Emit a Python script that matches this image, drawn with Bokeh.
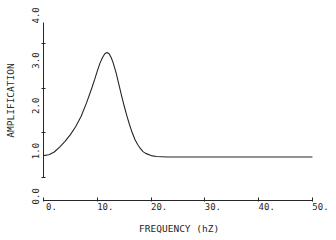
import math
from bokeh.plotting import figure
from bokeh.models import Range1d, LinearAxis, FixedTicker, PrintfTickFormatter
from bokeh.embed import file_html
from bokeh.resources import INLINE

# ---- data ----
freq = [0, 1, 2, 3, 4, 5, 6, 7, 8, 9, 9.5, 10, 10.5, 11, 11.4, 11.8, 12.2, 12.6,
        13, 13.5, 14, 14.5, 15, 15.5, 16, 16.5, 17, 17.5, 18, 18.5, 19, 20, 21,
        23, 25, 30, 35, 40, 45, 50]
amplification = [0.49, 0.51, 0.57, 0.68, 0.81, 0.96, 1.14, 1.37, 1.67, 2.01, 2.19,
                 2.38, 2.56, 2.69, 2.77, 2.80, 2.77, 2.68, 2.55, 2.34, 2.09, 1.84,
                 1.60, 1.38, 1.18, 1.00, 0.85, 0.74, 0.65, 0.58, 0.54, 0.49, 0.47,
                 0.46, 0.46, 0.46, 0.46, 0.46, 0.46, 0.46]
x_ticks = [0, 10, 20, 30, 40, 50]
y_ticks = [0, 1, 2, 3]
y_tick_labels = [0, 1, 2, 3, 4]

FONT = "DejaVu Sans Mono"
INK = "#262626"

p = figure(width=336, height=240, output_backend="svg", toolbar_location=None,
           x_range=Range1d(0, 51.5), y_range=Range1d(-0.515, 3.962),
           min_border_left=43, min_border_right=16, min_border_top=0,
           min_border_bottom=40, outline_line_color=None)
p.grid.visible = False
p.background_fill_color = "white"
p.border_fill_color = "white"

# label-carrying ranges (labels sit offset from the tick marks as in the original)
p.extra_x_ranges = {"xl": Range1d(-1.49, 50.0)}
p.extra_y_ranges = {"yl": Range1d(-0.272, 4.148)}

# primary axes: line and ticks only (labels not drawn)
xa = p.xaxis[0]
xa.ticker = FixedTicker(ticks=x_ticks)
xa.bounds = (0, 50)
xa.major_label_text_color = None
xa.major_label_text_font_size = "1px"
xa.major_label_standoff = 0
xa.major_tick_in = 3
xa.major_tick_out = 1
xa.minor_tick_line_color = None
xa.axis_line_color = INK
xa.major_tick_line_color = INK

ya = p.yaxis[0]
ya.ticker = FixedTicker(ticks=y_ticks)
ya.bounds = (0, 3.47)
ya.major_label_text_color = None
ya.major_label_text_font_size = "1px"
ya.major_label_standoff = 0
ya.major_tick_in = 2
ya.major_tick_out = 2
ya.minor_tick_line_color = None
ya.axis_line_color = INK
ya.major_tick_line_color = INK

# label axes
xl = LinearAxis(x_range_name="xl", ticker=FixedTicker(ticks=x_ticks),
                formatter=PrintfTickFormatter(format="%d."),
                axis_line_color=None, major_tick_line_color=None,
                minor_tick_line_color=None, major_tick_in=0, major_tick_out=0,
                major_label_standoff=1,
                major_label_text_font=FONT, major_label_text_font_size="9px",
                major_label_text_color=INK,
                axis_label="FREQUENCY  (hZ)", axis_label_standoff=10,
                axis_label_text_font=FONT, axis_label_text_font_size="9.5px",
                axis_label_text_font_style="normal", axis_label_text_color=INK)
p.add_layout(xl, "below")

yl = LinearAxis(y_range_name="yl", ticker=FixedTicker(ticks=y_tick_labels),
                formatter=PrintfTickFormatter(format="%.1f"),
                axis_line_color=None, major_tick_line_color=None,
                minor_tick_line_color=None, major_tick_in=0, major_tick_out=0,
                major_label_standoff=6, major_label_orientation=math.pi / 2,
                major_label_text_font=FONT, major_label_text_font_size="9px",
                major_label_text_color=INK,
                axis_label="AMPLIFICATION", axis_label_standoff=10,
                axis_label_text_font=FONT, axis_label_text_font_size="9.5px",
                axis_label_text_font_style="normal", axis_label_text_color=INK)
p.add_layout(yl, "left")

p.line(freq, amplification, line_color=INK, line_width=1.1)

open("out.html", "w").write(file_html(p, INLINE))
